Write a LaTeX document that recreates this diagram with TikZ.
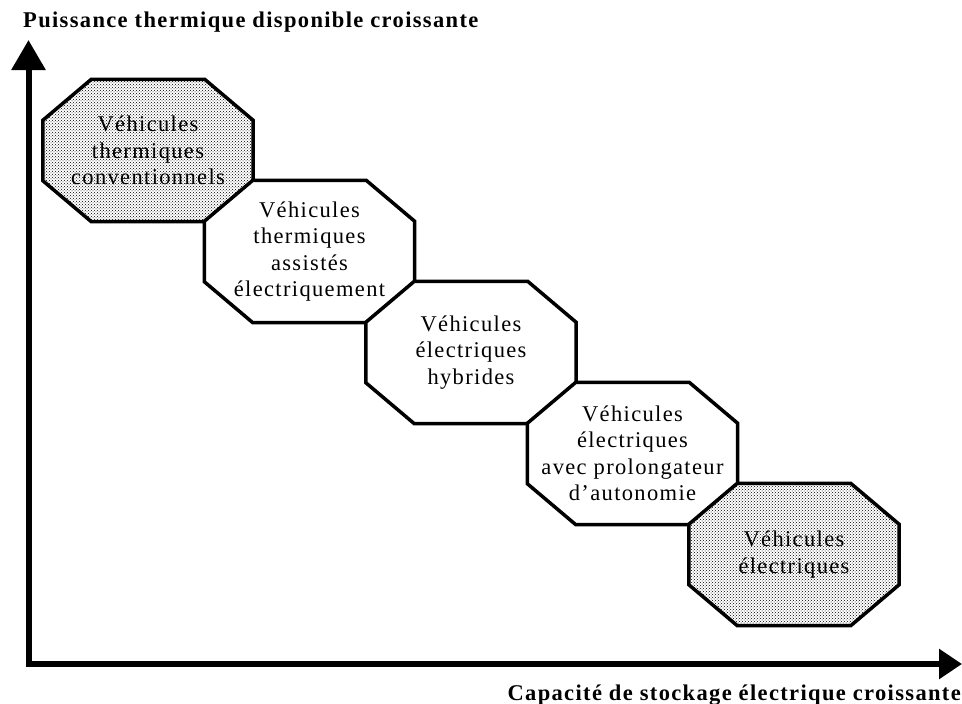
\documentclass[tikz,border=0pt]{standalone}
\usepackage{fontspec}
\setmainfont{Liberation Serif}[LetterSpace=6]
\usetikzlibrary{arrows.meta,patterns,backgrounds}
\tikzset{
  octo/.style={draw=black, line width=3.5pt, line join=miter, fill=white},
  shaded/.style={octo, preaction={fill=white}, pattern=crosshatch dots, pattern color=black},
  lbl/.style={align=center, inner sep=0pt, minimum width=210pt, minimum height=142pt,
              font=\fontsize{22.5}{26.5}\selectfont},
  axistitle/.style={inner sep=0pt, font=\fontsize{22.5}{26}\selectfont\bfseries},
  axisline/.style={line width=6pt, line join=miter,
                   {Triangle[length=30pt,width=33pt]}-{Triangle[length=23pt,width=29pt]}}
}
\newcommand{\octpath}[2]{%
  \draw[#2] ([xshift=48.5pt]#1.north west) -- ([xshift=-48.5pt]#1.north east)
    -- ([yshift=-41pt]#1.north east) -- ([yshift=41pt]#1.south east)
    -- ([xshift=-48.5pt]#1.south east) -- ([xshift=48.5pt]#1.south west)
    -- ([yshift=41pt]#1.south west) -- ([yshift=-41pt]#1.north west) -- cycle;}
\begin{document}
\begin{tikzpicture}[x=1pt,y=-1pt]
\useasboundingbox (0,0) rectangle (962,704);

\node[lbl] (v1) at (148,150.5) {Véhicules\\thermiques\\conventionnels};
\node[lbl] (v2) at (309.5,251.5) {Véhicules\\thermiques\\assistés\\électriquement};
\node[lbl] (v3) at (471,352.5) {Véhicules\\électriques\\hybrides};
\node[lbl] (v4) at (632.5,453.5) {Véhicules\\électriques\\avec prolongateur\\d’autonomie};
\node[lbl] (v5) at (794,554.5) {Véhicules\\électriques};

\begin{scope}[on background layer]
  \octpath{v1}{shaded}
  \octpath{v2}{octo}
  \octpath{v3}{octo}
  \octpath{v4}{octo}
  \octpath{v5}{shaded}
\end{scope}

\coordinate (ytip) at (28.5,40);
\coordinate (origin) at (28.5,664);
\coordinate (xtip) at (962,664);
\draw[axisline] (ytip) -- (origin) -- (xtip);

\node[axistitle, anchor=west] (ytitle) at (23,22) {Puissance thermique disponible croissante};
\node[axistitle, anchor=east] (xtitle) at (961,695) {Capacité de stockage électrique croissante};
\end{tikzpicture}
\end{document}
